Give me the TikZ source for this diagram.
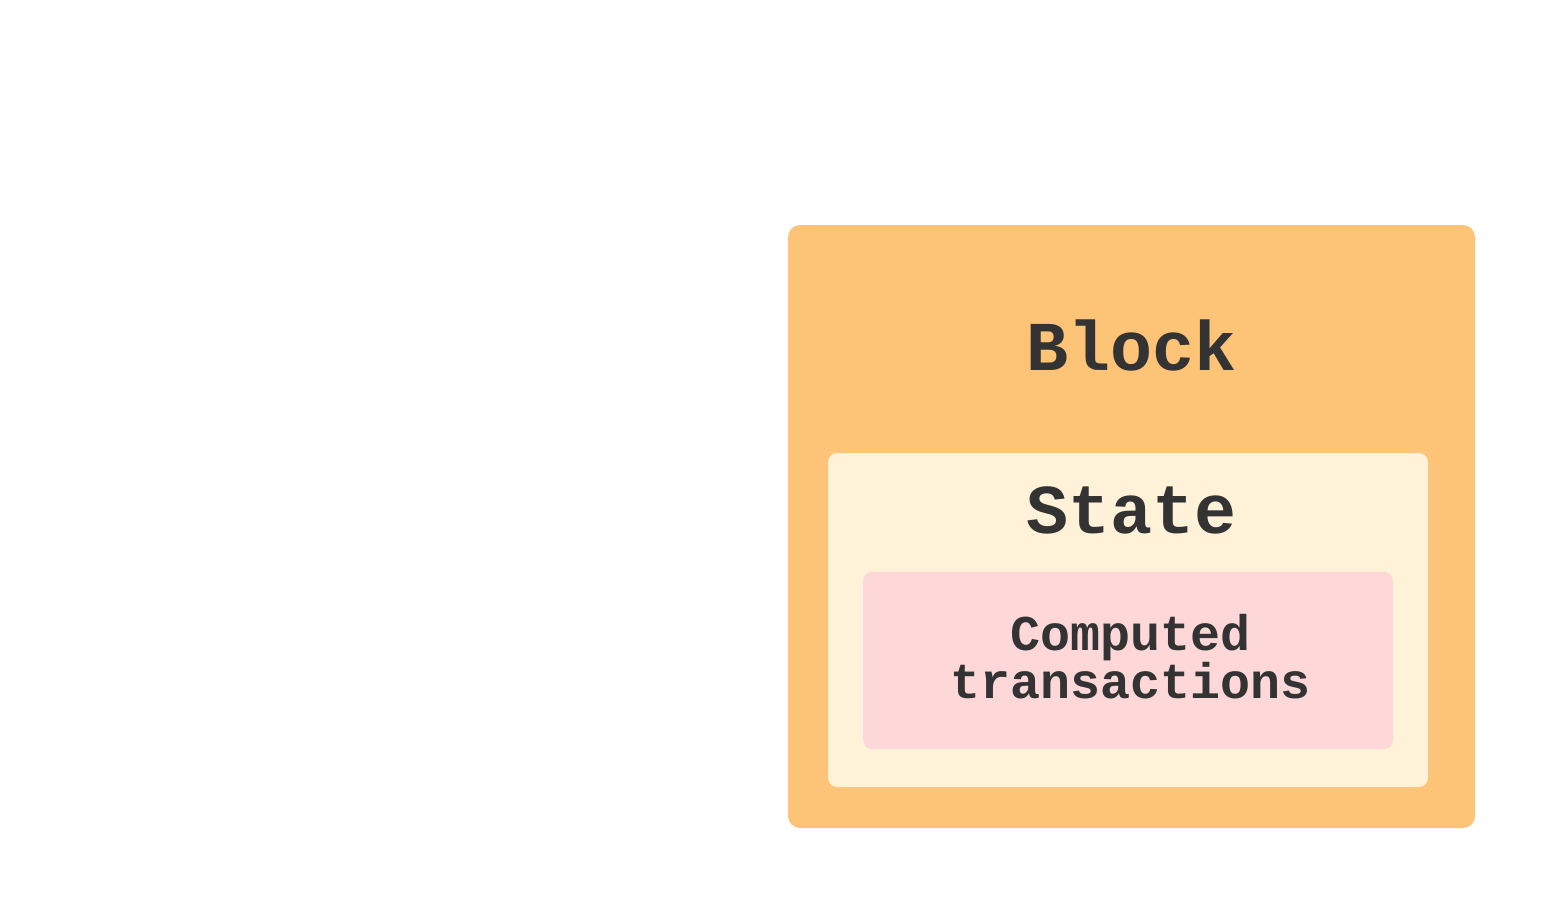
\documentclass[tikz,border=0pt]{standalone}
\usepackage{fontspec}
\usepackage{tikz}
\setmonofont{Liberation Mono}
\definecolor{blockback}{RGB}{253,195,118}
\definecolor{stateback}{RGB}{255,242,217}
\definecolor{txback}{RGB}{254,216,217}
\definecolor{labeltext}{RGB}{51,51,51}
\tikzset{
  box/.style={rounded corners=6pt,inner sep=0pt},
  label text/.style={text=labeltext,font=\ttfamily\bfseries,align=center,inner sep=0pt}
}
\begin{document}
\begin{tikzpicture}[x=0.5pt,y=-0.5pt]
\useasboundingbox (0,0) rectangle (1547,900);
\node [box,fill=blockback,minimum width=343.5pt,minimum height=301.5pt] (block) at (1131.5,526.5) {};
\node [box,fill=stateback,rounded corners=4.5pt,minimum width=300pt,minimum height=167pt] (state) at (1128,620) {};
\node [box,fill=txback,rounded corners=4.5pt,minimum width=265pt,minimum height=88.5pt] (tx) at (1128,660.5) {};
\node [label text,font=\ttfamily\bfseries\fontsize{35}{40}\selectfont] (blocklabel) at (1132,345) {Block};
\node [label text,font=\ttfamily\bfseries\fontsize{35}{40}\selectfont] (statelabel) at (1132,510) {State};
\node [label text,font=\ttfamily\bfseries\fontsize{25}{24}\selectfont] (txlabel) at (1131,657) {Computed\\transactions};
\end{tikzpicture}
\end{document}
